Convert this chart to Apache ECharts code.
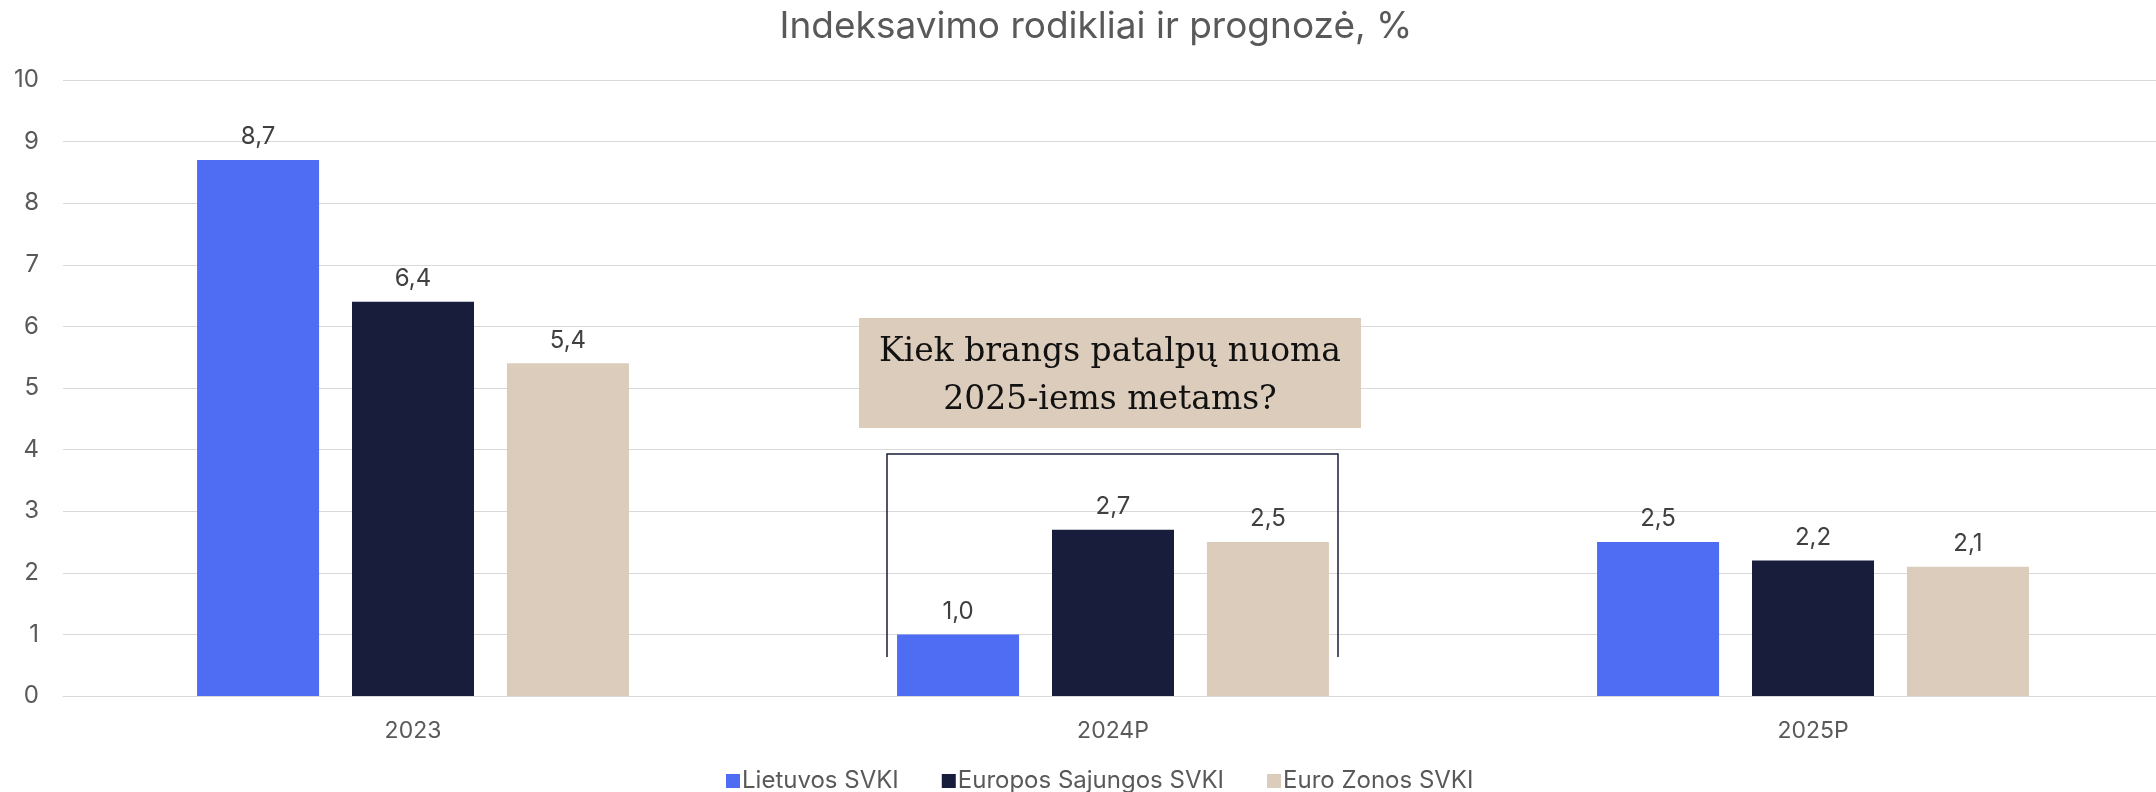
<!DOCTYPE html>
<html>
<head>
<meta charset="utf-8">
<script src="https://cdn.jsdelivr.net/npm/echarts@6/dist/echarts.min.js"></script>
<style>
  html, body { margin: 0; padding: 0; background: #fff; overflow: hidden; }
  #chart { width: 2163px; height: 792px; }
</style>
</head>
<body>
<div id="chart"></div>
<script>
// data
const categories = ['2023', '2024P', '2025P'];
const lietuvos = [8.7, 1.0, 2.5];
const europos = [6.4, 2.7, 2.2];
const euroZonos = [5.4, 2.5, 2.1];
const seriesNames = ['Lietuvos SVKI', 'Europos Sajungos SVKI', 'Euro Zonos SVKI'];
const colors = ['#4F6DF3', '#181D3B', '#DCCCBB'];

const fmt = (v) => v.toFixed(1).replace('.', ',');

const makeBar = (name, data, color) => ({
    name: name,
    type: 'bar',
    data: data,
    barWidth: 122,
    barGap: '27%',
    itemStyle: { color: color },
    label: {
        show: true,
        position: 'top',
        distance: 11,
        color: '#404040',
        fontFamily: 'Inter',
        fontSize: 24,
        formatter: (p) => fmt(p.value)
    }
});

// plot runs a few px past the right edge of the window, like the original
const chart = echarts.init(document.getElementById('chart'), null, { renderer: 'canvas' });

chart.setOption({
    animation: false,
    color: colors,
    title: {
        text: 'Indeksavimo rodikliai ir prognozė, %',
        left: 1091,
        textAlign: 'center',
        top: 3,
        textStyle: { fontFamily: 'Inter', fontWeight: 'normal', fontSize: 37, color: '#595959' }
    },
    legend: {
        data: seriesNames,
        left: 721,
        top: 764,
        itemWidth: 14,
        itemHeight: 14,
        itemGap: 43,
        icon: 'rect',
        textStyle: { fontFamily: 'Inter', fontSize: 24, color: '#595959', padding: [0, 0, 0, -3] }
    },
    grid: { left: 63, right: 0, top: 80, bottom: 96, containLabel: false },
    xAxis: {
        type: 'category',
        data: categories,
        axisLine: { lineStyle: { color: '#d9d9d9', width: 1 } },
        axisTick: { show: false },
        axisLabel: { margin: 24, fontFamily: 'Inter', fontSize: 23, color: '#595959' }
    },
    yAxis: {
        type: 'value',
        min: 0,
        max: 10,
        interval: 1,
        axisLine: { show: false },
        axisTick: { show: false },
        axisLabel: { margin: 24, fontFamily: 'Inter', fontSize: 24, color: '#595959' },
        splitLine: { lineStyle: { color: '#d9d9d9', width: 1 } }
    },
    series: [
        makeBar(seriesNames[0], lietuvos, colors[0]),
        makeBar(seriesNames[1], europos, colors[1]),
        makeBar(seriesNames[2], euroZonos, colors[2])
    ],
    graphic: [
        {
            type: 'rect',
            shape: { x: 859, y: 318, width: 502, height: 110 },
            style: { fill: '#DCCCBB' },
            z: 10
        },
        {
            type: 'text',
            x: 1110,
            y: 376,
            style: {
                text: 'Kiek brangs patalpų nuoma\n2025-iems metams?',
                font: '33px "DejaVu Serif", "Liberation Serif", serif',
                fill: '#111',
                align: 'center',
                verticalAlign: 'middle',
                lineHeight: 48
            },
            z: 11
        },
        {
            type: 'polyline',
            shape: { points: [[887, 657], [887, 454], [1338, 454], [1338, 657]] },
            style: { stroke: '#181D3B', lineWidth: 1.5, fill: null },
            z: 10
        }
    ]
});
</script>
</body>
</html>
